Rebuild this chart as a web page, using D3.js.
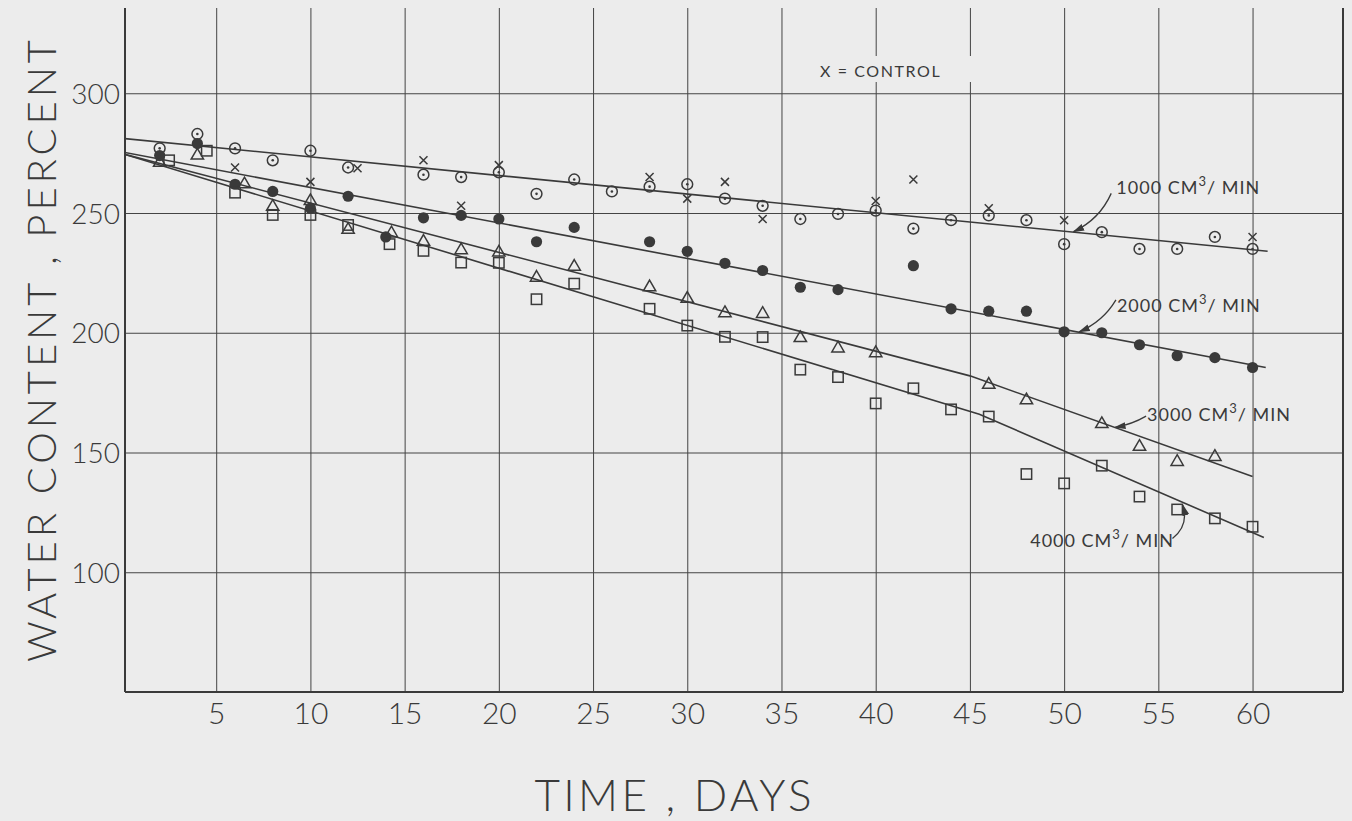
<!DOCTYPE html>
<html>
<head>
<meta charset="utf-8">
<script src="https://cdn.jsdelivr.net/npm/d3@7"></script>
<style>
  body { margin: 0; background: #ececec; }
  svg { display: block; }
  text { font-family: Lato, "Open Sans", sans-serif; font-weight: 300; fill: #3a3a3a; }
  .small { font-weight: 400; }
</style>
</head>
<body>
<svg width="1352" height="821"></svg>
<script>
// data
var xTicks = [5,10,15,20,25,30,35,40,45,50,55,60]
var yTicks = [100,150,200,250,300]

// 1000 cm3/min  (open circle with dot)
var days1000 = [2,4,6,8,10,12,16,18,20,22,24,26,28,30,32,34,36,38,40,42,44,46,48,50,52,54,56,58,60]
var vals1000 = [277,283,277,272,276,269,266,265,267,258,264,259,261,262,256,253,247.5,249.6,251,243.5,247,249,247,237,242,235,235,240,235]
// 2000 cm3/min  (filled circle)
var days2000 = [2,4,6,8,10,12,14,16,18,20,22,24,28,30,32,34,36,38,42,44,46,48,50,52,54,56,58,60]
var vals2000 = [274,279,262,259,252,257,240,248,249,247.5,238,244,238,234,229,226,219,218,228,210,209,209,200.4,200,195,190.4,189.6,185.5]
// 3000 cm3/min  (triangle)
var days3000 = [2,4,6.5,8,10,12,14.3,16,18,20,22,24,28,30,32,34,36,38,40,46,48,52,54,56,58]
var vals3000 = [271,274,262,252.6,255,243,241.5,238,234.5,233.5,223,227.6,219,214.2,208.2,207.9,197.8,193.5,191.5,178.3,171.8,161.9,152.4,146.1,148.2]
// 4000 cm3/min  (square)
var days4000 = [2.5,4.5,6,8,10,12,14.2,16,18,20,22,24,28,30,32,34,36,38,40,42,44,46,48,50,52,54,56,58,60]
var vals4000 = [272,276,258.5,249.2,249.2,245,237,234.2,229.3,229.2,214,220.5,210,203,198.3,198.2,184.6,181.5,170.5,176.8,168,165,141,137.1,144.5,131.6,126.2,122.5,119]
// control (x)
var daysCtrl = [6,10,12.5,16,18,20,28,30,32,34,40,42,46,50,60]
var valsCtrl = [269,263,268.7,272,253,270,265,256,263,247.5,255,264,252,247,240]

// fitted lines (day, value)
var fit1000 = [[0,281.2],[60.8,234]]
var fit2000 = [[0,275.5],[60.7,185.5]]
var fit3000 = [[0,274.8],[45,182],[60,140]]
var fit4000 = [[0,274.8],[45.5,166],[60.6,114.5]]

// labels: text position and arrow (from -> to), in data units
var labelNames = ['1000','2000','3000','4000']
var labelPos  = [[52.77,257.8],[52.8,208.8],[54.4,163.2],[48.2,110.6]]
var arrowFrom = [[52.5,258.2],[52.75,213.7],[54.35,165.2],[55.75,114.1]]
var arrowTo   = [[50.5,242.2],[50.8,200.4],[52.7,160.5],[56.3,128]]
var arrowBend = [-10,-8,-3,12]

var ink = '#3a3a3a'
var pLeft = 125, pRight = 1343, pTop = 8, pBottom = 692

var svg = d3.select('svg')

var x = d3.scaleLinear().domain([0.16, 64.8]).range([pLeft, pRight])
var y = d3.scaleLinear().domain([50, 335.6]).range([pBottom, pTop])

// grid + ticks
var xAxis = svg.append('g')
    .attr('transform', 'translate(0,' + pBottom + ')')
    .call(d3.axisBottom(x).tickValues(xTicks).tickSize(-(pBottom - pTop)).tickPadding(11).tickFormat(d3.format('d')))
var yAxis = svg.append('g')
    .attr('transform', 'translate(' + pLeft + ',0)')
    .call(d3.axisLeft(y).tickValues(yTicks).tickSize(-(pRight - pLeft)).tickPadding(5).tickFormat(d3.format('d')))

svg.selectAll('.domain').remove()
svg.selectAll('.tick line').attr('stroke', '#444').attr('stroke-width', 1)
xAxis.selectAll('text').style('font-size', '30px').attr('fill', ink)
yAxis.selectAll('text').style('font-size', '28px').attr('fill', ink).attr('dy', '0.36em')

// frame
svg.append('line').attr('x1', pLeft).attr('x2', pLeft).attr('y1', pTop).attr('y2', pBottom)
    .attr('stroke', ink).attr('stroke-width', 2)
svg.append('line').attr('x1', pLeft).attr('x2', pRight).attr('y1', pBottom).attr('y2', pBottom)
    .attr('stroke', ink).attr('stroke-width', 2)
svg.append('line').attr('x1', pRight).attr('x2', pRight).attr('y1', pTop).attr('y2', pBottom)
    .attr('stroke', ink).attr('stroke-width', 2)

// control label (with paper patch over the grid)
svg.append('rect').attr('x', 812).attr('y', 56).attr('width', 163).attr('height', 26).attr('fill', '#ececec')
svg.append('text').attr('class', 'small').attr('x', 820).attr('y', 77)
    .style('font-size', '16px').style('letter-spacing', '1.6px')
    .text('X = CONTROL')

// fitted lines
svg.append('clipPath').attr('id', 'plot').append('rect')
    .attr('x', pLeft).attr('y', pTop).attr('width', pRight - pLeft).attr('height', pBottom - pTop)
var line = d3.line().x(function(d){ return x(d[0]) }).y(function(d){ return y(d[1]) })
svg.append('g').attr('clip-path', 'url(#plot)')
    .selectAll('path')
    .data([fit1000, fit2000, fit3000, fit4000])
    .enter()
    .append('path')
    .attr('d', line)
    .attr('fill', 'none')
    .attr('stroke', ink)
    .attr('stroke-width', 1.6)

function pairs(days, vals){ return days.map(function(d,i){ return [d, vals[i]] }) }

// 1000: circle with dot
var g1 = svg.append('g').selectAll('g').data(pairs(days1000, vals1000)).enter().append('g')
    .attr('transform', function(d){ return 'translate(' + x(d[0]) + ',' + y(d[1]) + ')' })
g1.append('circle').attr('r', 5.4).attr('fill', 'none').attr('stroke', ink).attr('stroke-width', 1.5)
g1.append('circle').attr('r', 1.3).attr('fill', ink)

// 2000: filled circle
svg.append('g').selectAll('circle').data(pairs(days2000, vals2000)).enter().append('circle')
    .attr('cx', function(d){ return x(d[0]) })
    .attr('cy', function(d){ return y(d[1]) })
    .attr('r', 5.6)
    .attr('fill', ink)

// 3000: triangle
svg.append('g').selectAll('path').data(pairs(days3000, vals3000)).enter().append('path')
    .attr('d', d3.symbol().type(d3.symbolTriangle).size(66))
    .attr('transform', function(d){ return 'translate(' + x(d[0]) + ',' + y(d[1]) + ')' })
    .attr('fill', 'none').attr('stroke', ink).attr('stroke-width', 1.5)

// 4000: square
svg.append('g').selectAll('rect').data(pairs(days4000, vals4000)).enter().append('rect')
    .attr('x', function(d){ return x(d[0]) - 5.2 })
    .attr('y', function(d){ return y(d[1]) - 5.2 })
    .attr('width', 10.4).attr('height', 10.4)
    .attr('fill', 'none').attr('stroke', ink).attr('stroke-width', 1.5)

// control: x
var gc = svg.append('g').selectAll('g').data(pairs(daysCtrl, valsCtrl)).enter().append('g')
    .attr('transform', function(d){ return 'translate(' + x(d[0]) + ',' + y(d[1]) + ')' })
gc.append('path').attr('d', 'M-4,-4L4,4M4,-4L-4,4').attr('stroke', ink).attr('stroke-width', 1.5)

// labels + arrows
svg.append('defs').append('marker')
    .attr('id', 'arrow').attr('viewBox', '0 0 10 10').attr('refX', 9).attr('refY', 5)
    .attr('markerWidth', 9).attr('markerHeight', 9).attr('orient', 'auto')
    .append('path').attr('d', 'M0,2L10,5L0,8Z').attr('fill', ink)

labelNames.forEach(function(name, i){
  var t = svg.append('text').attr('class', 'small')
      .attr('x', x(labelPos[i][0])).attr('y', y(labelPos[i][1]))
      .style('font-size', '18px').style('letter-spacing', '1px')
  t.append('tspan').text(name + ' CM')
  t.append('tspan').attr('dy', -8).style('font-size', '13px').text('3')
  t.append('tspan').attr('dy', 8).text('/ MIN')

  var x0 = x(arrowFrom[i][0]), y0 = y(arrowFrom[i][1])
  var x1 = x(arrowTo[i][0]), y1 = y(arrowTo[i][1])
  var mx = (x0 + x1) / 2, my = (y0 + y1) / 2
  var len = Math.sqrt((x1-x0)*(x1-x0) + (y1-y0)*(y1-y0))
  var cx = mx - (y1 - y0) / len * arrowBend[i], cy = my + (x1 - x0) / len * arrowBend[i]
  var p = d3.path()
  p.moveTo(x0, y0)
  p.quadraticCurveTo(cx, cy, x1, y1)
  svg.append('path').attr('d', p.toString()).attr('fill', 'none')
      .attr('stroke', ink).attr('stroke-width', 1.3).attr('marker-end', 'url(#arrow)')
})

// axis titles
svg.append('text')
    .attr('transform', 'translate(56,351) rotate(-90)')
    .attr('text-anchor', 'middle')
    .attr('textLength', 622).attr('lengthAdjust', 'spacing')
    .style('font-size', '40px')
    .text('WATER CONTENT , PERCENT')
svg.append('text')
    .attr('x', 673).attr('y', 811)
    .attr('text-anchor', 'middle')
    .attr('textLength', 277).attr('lengthAdjust', 'spacing')
    .style('font-size', '44px')
    .text('TIME , DAYS')
</script>
</body>
</html>
